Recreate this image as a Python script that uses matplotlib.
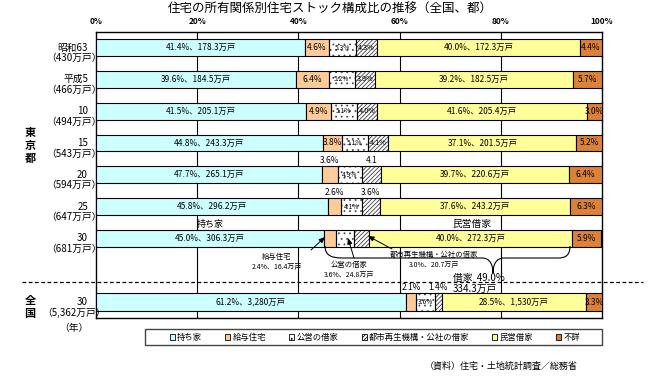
import matplotlib
matplotlib.use('Agg')
import matplotlib.pyplot as plt
from matplotlib.patches import Patch, Rectangle, PathPatch
from matplotlib.path import Path
from matplotlib.lines import Line2D
import matplotlib.transforms as mtransforms

plt.rcParams['font.family'] = ['Noto Sans CJK JP', 'DejaVu Sans']
plt.rcParams['hatch.linewidth'] = 0.55

# ---------------- data ----------------
years = ['昭和63', '平成5', '10', '15', '20', '25', '30', '30']
totals = ['（430万戸）', '（466万戸）', '（494万戸）', '（543万戸）',
          '（594万戸）', '（647万戸）', '（681万戸）', '（5,362万戸）']
row_pos = [0, 1, 2, 3, 4, 5, 6, 8]

series_names = ['持ち家', '給与住宅', '公営の借家', '都市再生機構・公社の借家', '民営借家', '不詳']
owned   = [41.4, 39.6, 41.5, 44.8, 44.6, 45.8, 45.0, 61.2]
company = [4.6, 6.4, 4.9, 3.8, 3.3, 2.6, 2.4, 2.1]
public  = [5.3, 5.2, 5.1, 5.1, 4.6, 4.1, 3.6, 3.6]
ur      = [4.3, 3.9, 4.0, 4.1, 3.8, 3.6, 3.0, 1.4]
private = [40.0, 39.2, 41.6, 37.1, 37.1, 37.6, 40.0, 28.5]
unknown = [4.4, 5.7, 3.0, 5.2, 6.6, 6.3, 5.9, 3.3]

owned_labels = ['41.4%、178.3万戸', '39.6%、184.5万戸', '41.5%、205.1万戸', '44.8%、243.3万戸',
                '47.7%、265.1万戸', '45.8%、296.2万戸', '45.0%、306.3万戸', '61.2%、3,280万戸']
company_labels = ['4.6%', '6.4%', '4.9%', '3.8%', '3.6%', '2.6%', '', '2.1%']
public_labels = ['5.3%', '5.2%', '5.1%', '5.1%', '4.9%', '4.1%', '', '3.6%']
ur_labels = ['4.3%', '3.9%', '4.0%', '4.1%', '4.1', '3.6%', '', '1.4%']
private_labels = ['40.0%、172.3万戸', '39.2%、182.5万戸', '41.6%、205.4万戸', '37.1%、201.5万戸',
                  '39.7%、220.6万戸', '37.6%、243.2万戸', '40.0%、272.3万戸', '28.5%、1,530万戸']
unknown_labels = ['4.4%', '5.7%', '3.0%', '5.2%', '6.4%', '6.3%', '5.9%', '3.3%']
label_above = [False, False, False, False, True, True, False, True]

xticks = [0, 20, 40, 60, 80, 100]
xtick_labels = ['0%', '20%', '40%', '60%', '80%', '100%']

# ---------------- figure ----------------
W, H = 650, 382
fig = plt.figure(figsize=(W / 100, H / 100), dpi=100)
ax_l, ax_r, ax_t, ax_b = 96, 602, 32, 318
ax = fig.add_axes([ax_l / W, 1 - ax_b / H, (ax_r - ax_l) / W, (ax_b - ax_t) / H])

row_px0, row_step = 47.5, 31.83


def P(px, py):
    return ((px - ax_l) / (ax_r - ax_l) * 100, (py - row_px0) / row_step)


def F(px, py):
    return (px / W, 1 - py / H)


ax.set_xlim(0, 100)
ax.set_ylim((ax_b - row_px0) / row_step, (ax_t - row_px0) / row_step)
for v in xticks[1:-1]:
    ax.axvline(v, color='black', lw=0.8, zorder=0)
ax.xaxis.tick_top()
ax.set_xticks(xticks)
ax.set_xticklabels(xtick_labels, fontsize=6, fontweight='bold')
ax.tick_params(axis='x', length=0, pad=4)
ax.set_yticks([])
for s in ax.spines.values():
    s.set_linewidth(1.0)

heights = [0.53] * 7 + [0.57]
colors = ['#CCFFFF', '#FFCC99', 'white', 'white', '#FFFF99', '#DC8236']
hatches = [None, None, '...', '////////', None, None]
hatch_cols = [None, None, '#444444', '#333333', None, None]
series = [owned, company, public, ur, private, unknown]

lefts = [0.0] * len(row_pos)
seg_lefts = []
for vals, col, hat, hc in zip(series, colors, hatches, hatch_cols):
    seg_lefts.append(list(lefts))
    if hat:
        ax.barh(row_pos, vals, left=lefts, height=heights, color=col, hatch=hat,
                edgecolor=hc, linewidth=0, zorder=2)
        ax.barh(row_pos, vals, left=lefts, height=heights, fill=False,
                edgecolor='black', linewidth=0.8, zorder=3)
    else:
        ax.barh(row_pos, vals, left=lefts, height=heights, color=col,
                edgecolor='black', linewidth=0.8, zorder=3)
    lefts = [a + b for a, b in zip(lefts, vals)]

# segment labels
for i, y in enumerate(row_pos):
    c = lambda k: seg_lefts[k][i] + series[k][i] / 2
    ax.text(c(0), y, owned_labels[i], ha='center', va='center', fontsize=6, zorder=5)
    ax.text(c(4), y, private_labels[i], ha='center', va='center', fontsize=6, zorder=5)
    ax.text(c(5), y, unknown_labels[i], ha='center', va='center', fontsize=6, zorder=5,
            clip_on=False)
    if public_labels[i]:
        ax.text(c(2), y, public_labels[i], ha='center', va='center', fontsize=4.8, zorder=5)
    if label_above[i]:
        yy = y - 0.46
        ax.text(c(1), yy, company_labels[i], ha='center', va='center', fontsize=6, zorder=5)
        ax.text(c(3), yy, ur_labels[i], ha='center', va='center', fontsize=6, zorder=5)
    elif company_labels[i]:
        ax.text(c(1), y, company_labels[i], ha='center', va='center', fontsize=6, zorder=5)
        ax.text(c(3), y, ur_labels[i], ha='center', va='center', fontsize=5.2, zorder=5)

# row labels
tr = mtransforms.blended_transform_factory(fig.transFigure, ax.transData)
for i, y in enumerate(row_pos):
    ax.text(88 / W, y, years[i], transform=tr, ha='right', va='center', fontsize=7)
    ax.text(74 / W, y + 0.33, totals[i], transform=tr, ha='center', va='center', fontsize=7)

fig.text(*F(30, 145), '東\n京\n都', ha='center', va='center', fontsize=8,
         fontweight='bold', linespacing=1.0)
fig.text(*F(30, 307), '全\n国', ha='center', va='center', fontsize=8,
         fontweight='bold', linespacing=1.05)
fig.text(*F(74, 328), '（年）', ha='center', va='center', fontsize=7)

# title
fig.text(*F(330, 9), '住宅の所有関係別住宅ストック構成比の推移（全国、都）',
         ha='center', va='center', fontsize=9)

# dashed separator
fig.add_artist(Line2D([22 / W, 643 / W], [1 - 282 / H] * 2, transform=fig.transFigure,
                      color='black', lw=0.9, ls=(0, (3, 2))))

# annotations for 2018 Tokyo
ax.text(*P(210, 224), '持ち家', ha='center', va='center', fontsize=6.5, zorder=5)
ax.text(*P(472, 224), '民営借家', ha='center', va='center', fontsize=7, zorder=5)

ax.text(*P(277, 257), '給与住宅', ha='center', va='center', fontsize=5.3, zorder=5)
ax.text(*P(277, 267), '2.4%、16.4万戸', ha='center', va='center', fontsize=5, zorder=5)
ax.text(*P(349, 265.5), '公営の借家', ha='center', va='center', fontsize=5.3, zorder=5)
ax.text(*P(349, 275.5), '3.6%、24.8万戸', ha='center', va='center', fontsize=5, zorder=5)
ax.text(*P(434, 255), '都市再生機構・公社の借家', ha='center', va='center', fontsize=5.3, zorder=5)
ax.text(*P(434, 265), '3.0%、20.7万戸', ha='center', va='center', fontsize=5, zorder=5)

arrow = dict(arrowstyle='-|>,head_length=0.35,head_width=0.15', color='black', lw=0.7,
             shrinkA=0, shrinkB=0)
ax.annotate('', xy=P(325, 237), xytext=P(311, 250), arrowprops=arrow, zorder=6)
ax.annotate('', xy=P(348, 238), xytext=P(354, 258), arrowprops=arrow, zorder=6)
ax.annotate('', xy=P(368, 236), xytext=P(392, 249), arrowprops=arrow, zorder=6)

# brace
pts = [P(325, 246), P(325, 255), P(331, 258), P(342, 258), P(482, 258),
       P(490, 258), P(493, 265), P(493, 273),
       P(493, 265), P(496, 258), P(504, 258), P(558, 258),
       P(566, 258), P(570, 255), P(570, 246)]
codes = [Path.MOVETO, Path.CURVE4, Path.CURVE4, Path.CURVE4, Path.LINETO,
         Path.CURVE4, Path.CURVE4, Path.CURVE4,
         Path.CURVE4, Path.CURVE4, Path.CURVE4, Path.LINETO,
         Path.CURVE4, Path.CURVE4, Path.CURVE4]
ax.add_patch(PathPatch(Path(pts, codes), fill=False, lw=0.8, ec='black', zorder=6,
                       clip_on=False))
ax.text(*P(453, 277.5), '借家  49.0%', ha='left', va='center', fontsize=7, zorder=6)
ax.text(*P(453, 288.5), '334.3万戸', ha='left', va='center', fontsize=7, zorder=6)

# legend
handles = [Patch(facecolor=c, edgecolor='black', hatch=h, linewidth=0.6)
           for c, h in zip(colors, hatches)]
fig.add_artist(Rectangle(F(145, 345), (602 - 145) / W, 16 / H, transform=fig.transFigure,
                         fill=False, ec='#444444', lw=1.0))
fig.legend(handles, series_names, loc='center', bbox_to_anchor=F(375, 337.5), ncol=6,
           frameon=False, fontsize=6, handlelength=0.6, handleheight=0.6,
           handletextpad=0.25, columnspacing=2.8, borderpad=0)

fig.text(*F(578, 366), '（資料）住宅・土地統計調査／総務省', ha='right', va='center', fontsize=6.5)

fig.savefig('out.png', dpi=100)
